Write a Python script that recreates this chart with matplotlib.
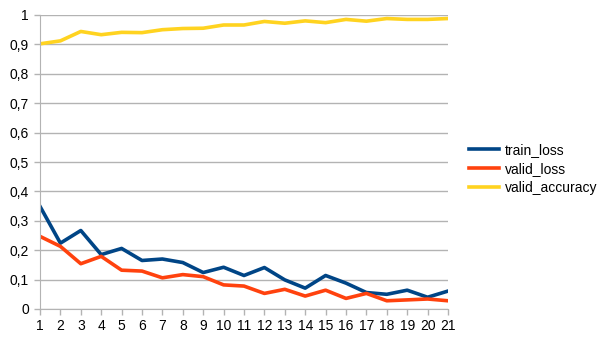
import matplotlib
matplotlib.use("Agg")
import matplotlib.pyplot as plt
from matplotlib.ticker import FuncFormatter

epochs = list(range(1, 22))
train_loss = [0.349, 0.224, 0.267, 0.185, 0.206, 0.165, 0.170, 0.158, 0.124, 0.142,
              0.114, 0.141, 0.099, 0.071, 0.114, 0.088, 0.056, 0.050, 0.064, 0.040, 0.061]
valid_loss = [0.247, 0.213, 0.154, 0.179, 0.132, 0.129, 0.106, 0.117, 0.110, 0.082,
              0.078, 0.053, 0.067, 0.044, 0.064, 0.036, 0.053, 0.028, 0.031, 0.034, 0.028]
valid_accuracy = [0.902, 0.912, 0.944, 0.933, 0.941, 0.940, 0.950, 0.954, 0.955, 0.966,
                  0.966, 0.978, 0.972, 0.980, 0.974, 0.985, 0.979, 0.988, 0.985, 0.985, 0.988]
yticks = [i / 10 for i in range(11)]

plt.rcParams['font.family'] = ['Liberation Sans', 'DejaVu Sans']

fig = plt.figure(figsize=(6.05, 3.4), dpi=100)
ax = fig.add_axes([40 / 605, 1 - 309 / 340, 408 / 605, 294 / 340])

ax.plot(epochs, train_loss, color='#004586', lw=2.6, label='train_loss')
ax.plot(epochs, valid_loss, color='#ff420e', lw=2.6, label='valid_loss')
ax.plot(epochs, valid_accuracy, color='#ffd320', lw=2.6, label='valid_accuracy')

ax.set_xlim(1, 21)
ax.set_ylim(0, 1)
ax.set_xticks(epochs)
ax.set_yticks(yticks)
ax.yaxis.set_major_formatter(FuncFormatter(lambda v, p: ('%g' % round(v, 1)).replace('.', ',')))
ax.grid(True, axis='y', color='#b3b3b3', lw=1)
ax.set_axisbelow(True)
for side in ['top', 'right']:
    ax.spines[side].set_visible(False)
for side in ['left', 'bottom']:
    ax.spines[side].set_color('#b3b3b3')
ax.tick_params(axis='both', colors='#b3b3b3', labelcolor='black', labelsize=10, length=4, width=1)
ax.tick_params(axis='x', pad=3)
ax.tick_params(axis='y', pad=4)

ax.legend(loc='center left', bbox_to_anchor=(463 / 408 - 40 / 408, 0.476), frameon=False,
          fontsize=10, handlelength=2.2, handletextpad=0.4, labelspacing=0.35, borderaxespad=0)

fig.savefig('out.png', dpi=100)
